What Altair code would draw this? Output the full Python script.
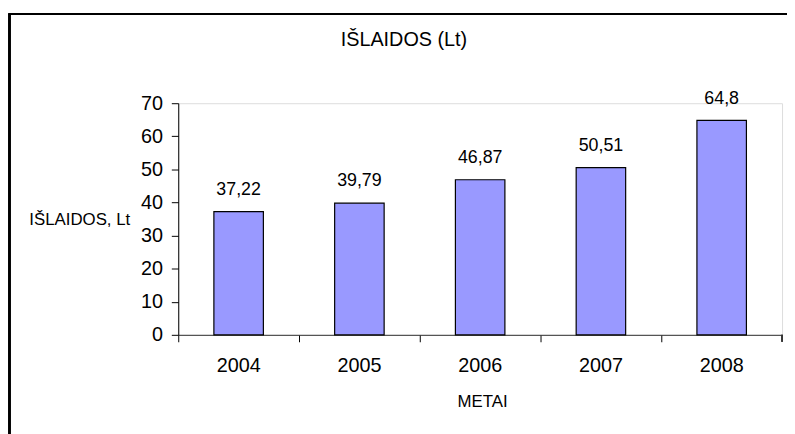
import altair as alt
import pandas as pd

years = ["2004", "2005", "2006", "2007", "2008"]
values = [37.22, 39.79, 46.87, 50.51, 64.8]
labels = [str(v).replace(".", ",") for v in values]
y_ticks = [0, 10, 20, 30, 40, 50, 60, 70]

df = pd.DataFrame({"metai": years, "islaidos": values, "label": labels})

FONT = "Liberation Sans"
W, H = 610, 234

x_axis = alt.Axis(
    title="METAI",
    labelAngle=0,
    labelFont=FONT,
    labelFontSize=20,
    labelColor="#000000",
    labelBaseline="middle",
    labelPadding=24,
    bandPosition=0,
    tickSize=7,
    tickColor="#000000",
    domainColor="#333333",
    titleFont=FONT,
    titleFontSize=17,
    titleFontWeight="normal",
    titleColor="#000000",
    titleBaseline="middle",
    titleX=307,
    titleY=67,
    grid=False,
)

y_axis = alt.Axis(
    title="IŠLAIDOS, Lt",
    values=y_ticks,
    labelOverlap=False,
    labelFont=FONT,
    labelFontSize=20,
    labelColor="#000000",
    labelPadding=9,
    tickSize=7,
    tickColor="#000000",
    domainColor="#000000",
    titleFont=FONT,
    titleFontSize=17,
    titleFontWeight="normal",
    titleColor="#000000",
    titleAngle=0,
    titleAlign="center",
    titleBaseline="middle",
    titleX=-100,
    titleY=118,
    grid=False,
)

x_enc = alt.X("metai:N", sort=years, scale=alt.Scale(paddingInner=0, paddingOuter=0), axis=x_axis)
y_enc = alt.Y("islaidos:Q", scale=alt.Scale(domain=[0, 70], nice=False), axis=y_axis)

base = alt.Chart(df)

bars = base.mark_bar(size=50, color="#9999FF", stroke="#000000", strokeWidth=1.2).encode(
    x=x_enc, y=y_enc
)

text = base.mark_text(font=FONT, fontSize=18, color="#000000", baseline="middle", dy=-22).encode(
    x=x_enc, y=y_enc, text="label:N"
)

end_tick = base.mark_rule(color="#333333").encode(
    x=alt.value(W), y=alt.value(H), y2=alt.value(H + 7)
)

border_left = base.mark_rule(color="#000000", strokeWidth=2).encode(
    x=alt.value(-170.5), y=alt.value(-90), y2=alt.value(H + 110)
)
border_top = base.mark_rule(color="#000000", strokeWidth=2).encode(
    x=alt.value(-171.5), x2=alt.value(W + 20), y=alt.value(-90)
)

chart = (
    alt.layer(bars, text, end_tick, border_left, border_top)
    .properties(
        width=W,
        height=H,
        padding={"left": 172, "top": 94, "right": 5, "bottom": 98},
        autosize=alt.AutoSizeParams(type="none"),
        title=alt.TitleParams(
            "IŠLAIDOS (Lt)",
            font=FONT,
            fontSize=20,
            fontWeight="normal",
            color="#000000",
            anchor="middle",
            frame="group",
            baseline="alphabetic",
            dx=-77,
            dy=53,
            offset=0,
        ),
    )
    .configure_view(strokeWidth=0, stroke="transparent")
    .configure(background="white")
)

chart.save("out.html", embed_options={"renderer": "svg", "actions": False})
